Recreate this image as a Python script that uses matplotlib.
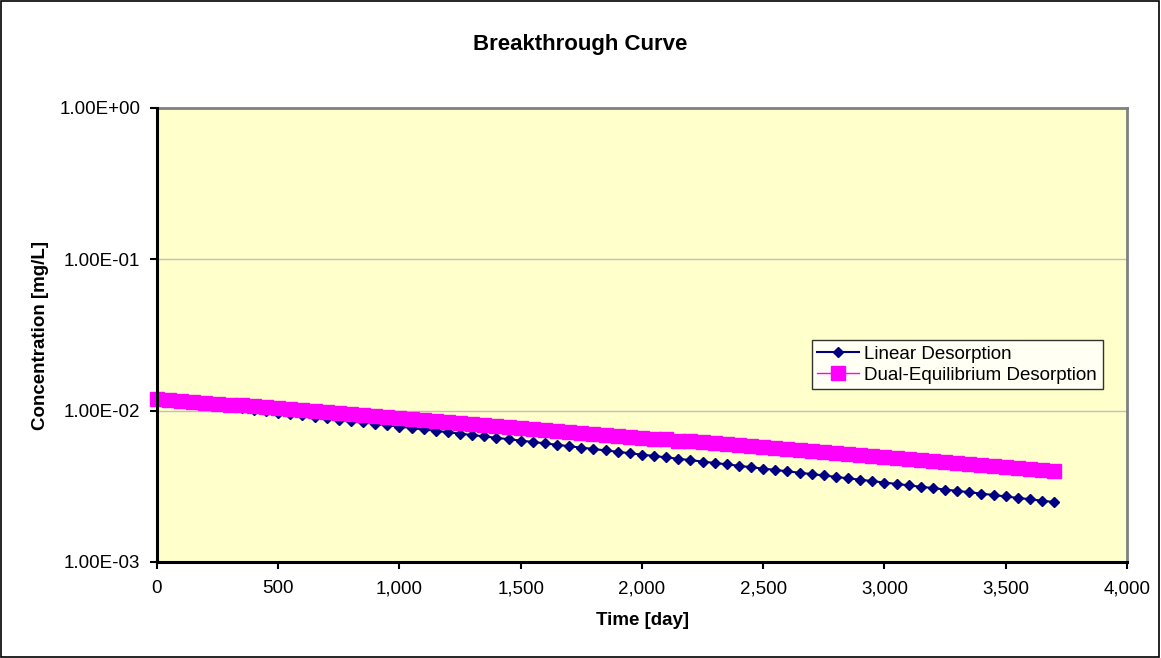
import matplotlib
matplotlib.use("Agg")
import matplotlib.pyplot as plt
import matplotlib.ticker as mticker
from matplotlib.patches import Rectangle

plt.rcParams['font.family'] = ['Liberation Sans', 'DejaVu Sans']

# Time [day]
time_days = [0, 50, 100, 150, 200, 250, 300, 350, 400, 450,
             500, 550, 600, 650, 700, 750, 800, 850, 900, 950,
             1000, 1050, 1100, 1150, 1200, 1250, 1300, 1350, 1400, 1450,
             1500, 1550, 1600, 1650, 1700, 1750, 1800, 1850, 1900, 1950,
             2000, 2050, 2100, 2150, 2200, 2250, 2300, 2350, 2400, 2450,
             2500, 2550, 2600, 2650, 2700, 2750, 2800, 2850, 2900, 2950,
             3000, 3050, 3100, 3150, 3200, 3250, 3300, 3350, 3400, 3450,
             3500, 3550, 3600, 3650, 3700]

# Concentration [mg/L]
linear_desorption = [0.01200, 0.01175, 0.01150, 0.01126, 0.01102, 0.01079, 0.01056, 0.01034, 0.01012, 0.00991,
                     0.00970, 0.00950, 0.00930, 0.00910, 0.00891, 0.00872, 0.00854, 0.00836, 0.00818, 0.00801,
                     0.00784, 0.00768, 0.00751, 0.00736, 0.00720, 0.00705, 0.00690, 0.00676, 0.00661, 0.00648,
                     0.00634, 0.00621, 0.00608, 0.00595, 0.00582, 0.00570, 0.00558, 0.00546, 0.00535, 0.00523,
                     0.00512, 0.00502, 0.00491, 0.00481, 0.00471, 0.00461, 0.00451, 0.00442, 0.00432, 0.00423,
                     0.00414, 0.00406, 0.00397, 0.00389, 0.00381, 0.00373, 0.00365, 0.00357, 0.00350, 0.00342,
                     0.00335, 0.00328, 0.00321, 0.00314, 0.00308, 0.00301, 0.00295, 0.00289, 0.00283, 0.00277,
                     0.00271, 0.00265, 0.00260, 0.00254, 0.00249]

dual_equilibrium = [0.01200, 0.01182, 0.01165, 0.01148, 0.01131, 0.01114, 0.01098, 0.01082, 0.01066, 0.01050,
                    0.01035, 0.01020, 0.01005, 0.00990, 0.00975, 0.00961, 0.00947, 0.00933, 0.00919, 0.00906,
                    0.00892, 0.00879, 0.00866, 0.00854, 0.00841, 0.00829, 0.00817, 0.00805, 0.00793, 0.00781,
                    0.00770, 0.00758, 0.00747, 0.00736, 0.00725, 0.00715, 0.00704, 0.00694, 0.00684, 0.00674,
                    0.00664, 0.00654, 0.00645, 0.00635, 0.00626, 0.00617, 0.00608, 0.00599, 0.00590, 0.00581,
                    0.00573, 0.00564, 0.00556, 0.00548, 0.00540, 0.00532, 0.00524, 0.00517, 0.00509, 0.00502,
                    0.00494, 0.00487, 0.00480, 0.00473, 0.00466, 0.00459, 0.00452, 0.00446, 0.00439, 0.00433,
                    0.00426, 0.00420, 0.00414, 0.00408, 0.00402]

fig = plt.figure(figsize=(11.61, 6.58), dpi=100)
ax = fig.add_axes([0.1352, 0.1459, 0.8355, 0.6900])
ax.set_facecolor('#FFFFCC')

# linear first, the pink squares are drawn on top of it
ax.plot(time_days, linear_desorption, color='#000080', marker='D', markersize=5.5,
        linewidth=1.5, label='Linear Desorption', zorder=3, clip_on=False)
ax.plot(time_days, dual_equilibrium, color='#FF00FF', marker='s', markersize=10.5,
        linewidth=1, label='Dual-Equilibrium Desorption', zorder=4, clip_on=False)

ax.set_yscale('log')
ax.set_ylim(1e-3, 1e0)
ax.set_xlim(0, 4000)
ax.xaxis.set_major_locator(mticker.MultipleLocator(500))
ax.xaxis.set_major_formatter(mticker.FuncFormatter(lambda v, p: f'{int(v):,}'))
ax.yaxis.set_major_locator(mticker.LogLocator(base=10, numticks=10))
ax.yaxis.set_minor_locator(mticker.NullLocator())
ax.yaxis.set_major_formatter(mticker.FuncFormatter(lambda v, p: f'{v:.2E}'))
ax.tick_params(axis='both', labelsize=13.5, direction='out', length=5, width=1.5,
               color='black')
ax.tick_params(axis='x', pad=8)
ax.tick_params(axis='y', pad=7)

ax.grid(axis='y', which='major', color='#C0C0C0', linewidth=1)
ax.set_axisbelow(True)

# axis lines sit on top of the series, as in the original
for side in ['left', 'bottom']:
    ax.spines[side].set_color('black')
    ax.spines[side].set_linewidth(2.2)
    ax.spines[side].set_zorder(5)
for side in ['top', 'right']:
    ax.spines[side].set_color('#808080')
    ax.spines[side].set_linewidth(2)

fig.text(0.5, 0.932, 'Breakthrough Curve', ha='center', va='center',
         fontsize=16, fontweight='bold')
fig.text(0.553, 0.057, 'Time [day]', ha='center', va='center',
         fontsize=13.5, fontweight='bold')
fig.text(0.0345, 0.49, 'Concentration [mg/L]', ha='center', va='center',
         rotation=90, fontsize=13.5, fontweight='bold')

leg = ax.legend(loc='upper left', bbox_to_anchor=(0.675, 0.489), borderaxespad=0,
                fontsize=13.5, frameon=True, fancybox=False, handlelength=2.2,
                handletextpad=0.3, labelspacing=0.2, borderpad=0.3)
leg.get_frame().set_edgecolor('black')
leg.get_frame().set_linewidth(1)
leg.get_frame().set_facecolor('white')
leg.set_zorder(10)

# border around the whole chart
fig.patches.append(Rectangle((0.0005, 0.001), 0.998, 0.998, transform=fig.transFigure,
                             fill=False, edgecolor='black', linewidth=1.2))

fig.savefig('out.png', dpi=100)
